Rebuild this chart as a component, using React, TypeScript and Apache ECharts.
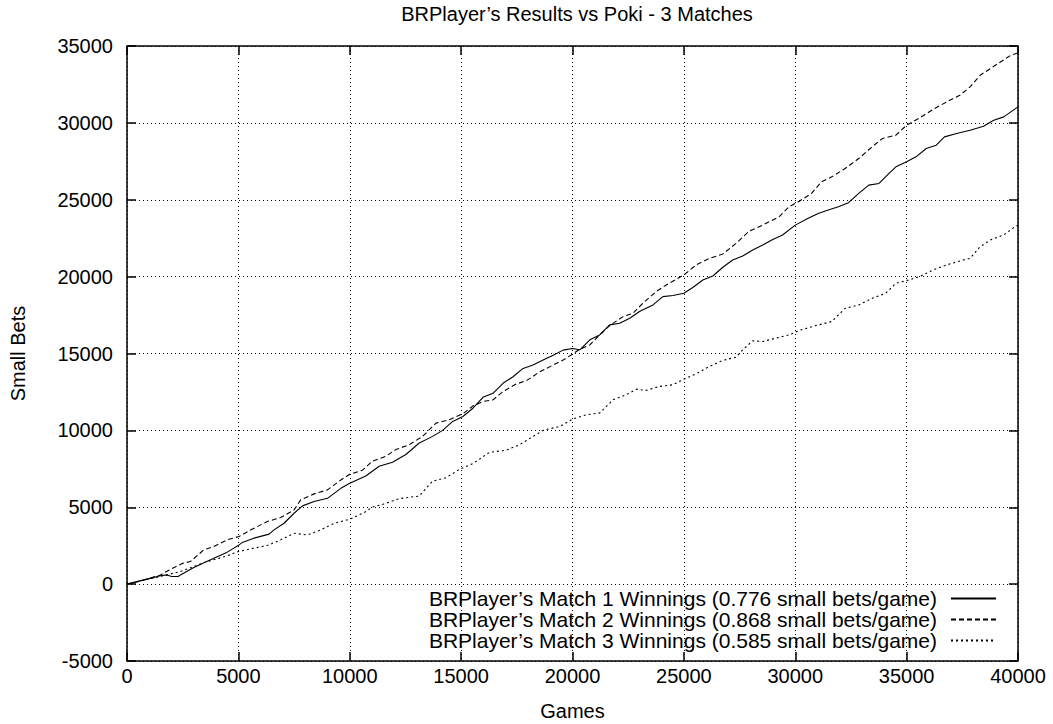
import React, { useEffect, useRef } from "react";
import * as echarts from "echarts";

const titleText = "BRPlayer’s Results vs Poki - 3 Matches";
const seriesNames = [
  "BRPlayer’s Match 1 Winnings (0.776 small bets/game)",
  "BRPlayer’s Match 2 Winnings (0.868 small bets/game)",
  "BRPlayer’s Match 3 Winnings (0.585 small bets/game)",
];

const match1: [number, number][] = [
  [0, 0], [900, 325], [1500, 540], [1800, 600], [2000, 500], [2300, 500], [2400, 600], [3000, 1080],
  [3750, 1580], [4500, 2080], [5030, 2550], [5200, 2730], [5700, 2990], [6380, 3250], [6600, 3530],
  [7050, 3960], [7500, 4610], [7880, 5090], [8400, 5370], [9000, 5580], [9600, 6230], [10000, 6560],
  [10720, 7030], [11320, 7670], [11920, 7930], [12520, 8430], [13120, 9180], [13720, 9610], [14170, 10000],
  [14620, 10580], [15080, 10900], [15530, 11440], [15980, 12150], [16430, 12410], [16880, 13060],
  [17330, 13490], [17780, 14030], [18230, 14250], [18680, 14570], [19130, 14890], [19580, 15220],
  [20000, 15320], [20330, 15240], [20780, 15890], [21220, 16210], [21670, 16860], [22120, 16970],
  [22570, 17290], [23010, 17730], [23610, 18160], [24060, 18700], [24510, 18770], [25000, 18920],
  [25400, 19290], [25850, 19780], [26300, 20040], [26750, 20610], [27190, 21080], [27640, 21340],
  [28090, 21730], [28540, 22060], [28990, 22420], [29430, 22710], [30000, 23350], [30580, 23790],
  [31030, 24110], [31480, 24330], [31940, 24550], [32390, 24810], [32850, 25410], [33300, 25950],
  [33760, 26060], [34210, 26710], [34520, 27140], [35000, 27470], [35420, 27790], [35880, 28330],
  [36330, 28550], [36700, 29090], [37240, 29310], [37850, 29520], [38450, 29780], [38910, 30170],
  [39360, 30390], [40000, 31040],
];

const match2: [number, number][] = [
  [0, 0], [900, 325], [1500, 600], [2000, 1000], [2500, 1350], [2850, 1470], [3450, 2230], [3900, 2450],
  [4500, 2880], [5030, 3100], [5560, 3530], [6300, 4070], [6900, 4330], [7500, 4830], [7800, 5480],
  [8400, 5870], [9000, 6130], [9600, 6770], [10000, 7150], [10570, 7410], [11020, 8000], [11620, 8320],
  [12070, 8750], [12670, 9070], [13270, 9610], [13870, 10470], [14470, 10690], [15080, 11080],
  [15530, 11590], [15980, 11880], [16430, 11980], [16880, 12520], [17480, 13020], [17930, 13230],
  [18530, 13810], [19130, 14250], [19580, 14570], [20000, 14960], [20330, 15280], [20780, 15560],
  [21220, 16210], [21670, 16820], [22270, 17400], [22720, 17620], [23160, 18270], [23760, 19030],
  [24210, 19460], [25000, 20110], [25550, 20760], [26150, 21190], [26750, 21470], [27340, 22160],
  [27940, 22970], [28540, 23350], [29280, 23900], [29730, 24550], [30180, 24900], [30730, 25410],
  [31180, 26170], [31640, 26490], [32240, 27030], [32850, 27680], [33450, 28440], [33910, 28980],
  [34520, 29200], [35000, 29850], [35580, 30320], [36180, 30870], [36790, 31360], [37390, 31800],
  [37850, 32340], [38300, 33100], [38760, 33530], [39210, 33960], [39670, 34390], [40000, 34550],
];

const match3: [number, number][] = [
  [0, 0], [1500, 500], [2400, 820], [3450, 1400], [4500, 1840], [5000, 2120], [5700, 2340], [6300, 2510],
  [6900, 2880], [7500, 3310], [8100, 3200], [8700, 3530], [9300, 3960], [10000, 4220], [10330, 4440],
  [10700, 4700], [11000, 5000], [11500, 5200], [12220, 5560], [13120, 5730], [13720, 6700], [14320, 6920],
  [14920, 7460], [15530, 7840], [16280, 8580], [17030, 8710], [17630, 9070], [18230, 9610], [18680, 10000],
  [19430, 10260], [20030, 10750], [20630, 11020], [21220, 11130], [21820, 11990], [22420, 12320],
  [22870, 12680], [23310, 12600], [23910, 12860], [24510, 12970], [25000, 13330], [25550, 13680],
  [26150, 14160], [26750, 14550], [27340, 14760], [27640, 15240], [28090, 15820], [28540, 15780],
  [29130, 16000], [29730, 16210], [30180, 16500], [30880, 16800], [31640, 17080], [32240, 17940],
  [32850, 18160], [33450, 18590], [34060, 18920], [34520, 19570], [35000, 19740], [35580, 20000],
  [36180, 20430], [36790, 20760], [37540, 21080], [37850, 21190], [38300, 21950], [38760, 22380],
  [39360, 22710], [39820, 23200], [40000, 23350],
];

const dashTypes: any[] = ["solid", [5, 3], [2, 3]];

export default function App() {
  const ref = useRef<HTMLDivElement>(null);
  useEffect(() => {
    if (!ref.current) return;
    const chart = echarts.init(ref.current, null, { renderer: "svg" });
    const font = "'Liberation Sans', Arial, Helvetica, sans-serif";
    const gridLine = { show: true, lineStyle: { color: "#000", width: 1, type: [1, 3] as any } };
    const tick = { show: true, inside: true, length: 9, lineStyle: { color: "#000", width: 1.5 } };
    const plain = (v: number) => String(v);
    const option: any = {
      animation: false,
      backgroundColor: "#fff",
      textStyle: { fontFamily: font },
      title: {
        text: titleText,
        left: 572,
        textAlign: "center",
        top: -1,
        textStyle: { fontFamily: font, fontSize: 20, fontWeight: "normal", color: "#000" },
      },
      grid: {
        left: 127, right: 35, top: 46, bottom: 63,
        outerBoundsMode: "none",
        containLabel: false,
        show: true, borderColor: "#000", borderWidth: 1.5, backgroundColor: "transparent",
      },
      legend: {
        orient: "vertical",
        right: 56,
        bottom: 73,
        padding: 0,
        align: "right",
        itemWidth: 45,
        itemHeight: 14,
        itemGap: 0,
        itemStyle: { color: "rgba(0,0,0,0)", borderColor: "rgba(0,0,0,0)", borderWidth: 0, opacity: 0 },
        textStyle: { fontFamily: font, fontSize: 21, lineHeight: 20, color: "#000", padding: [0, 9, 0, 0] },
        data: seriesNames,
      },
      xAxis: [
        {
          type: "value", min: 0, max: 40000, interval: 5000,
          name: "Games", nameLocation: "middle", nameGap: 40,
          nameTextStyle: { fontFamily: font, fontSize: 20, color: "#000" },
          axisLine: { show: false, onZero: false },
          axisTick: tick,
          axisLabel: { fontFamily: font, fontSize: 20, color: "#000", margin: 5, formatter: plain },
          splitLine: gridLine,
        },
        {
          type: "value", min: 0, max: 40000, interval: 5000, position: "top",
          axisLine: { show: false, onZero: false }, axisTick: tick, axisLabel: { show: false }, splitLine: { show: false },
        },
      ],
      yAxis: [
        {
          type: "value", min: -5000, max: 35000, interval: 5000,
          name: "Small Bets", nameLocation: "middle", nameGap: 99, nameRotate: 90,
          nameTextStyle: { fontFamily: font, fontSize: 20, color: "#000" },
          axisLine: { show: false, onZero: false },
          axisTick: tick,
          axisLabel: { fontFamily: font, fontSize: 20, color: "#000", margin: 14, formatter: plain },
          splitLine: gridLine,
        },
        {
          type: "value", min: -5000, max: 35000, interval: 5000, position: "right",
          axisLine: { show: false, onZero: false }, axisTick: tick, axisLabel: { show: false }, splitLine: { show: false },
        },
      ],
      series: [match1, match2, match3].map((d, i) => ({
        name: seriesNames[i],
        type: "line",
        data: d,
        showSymbol: false,
        symbol: "none",
        xAxisIndex: 0,
        yAxisIndex: 0,
        lineStyle: { color: "#000", width: 1.1, type: dashTypes[i] },
        itemStyle: { color: "#000" },
        z: 5,
      })),
    };
    chart.setOption(option);
    return () => chart.dispose();
  }, []);
  return <div ref={ref} style={{ position: "fixed", left: 0, top: 0, width: 1053, height: 724, background: "#fff" }} />;
}
